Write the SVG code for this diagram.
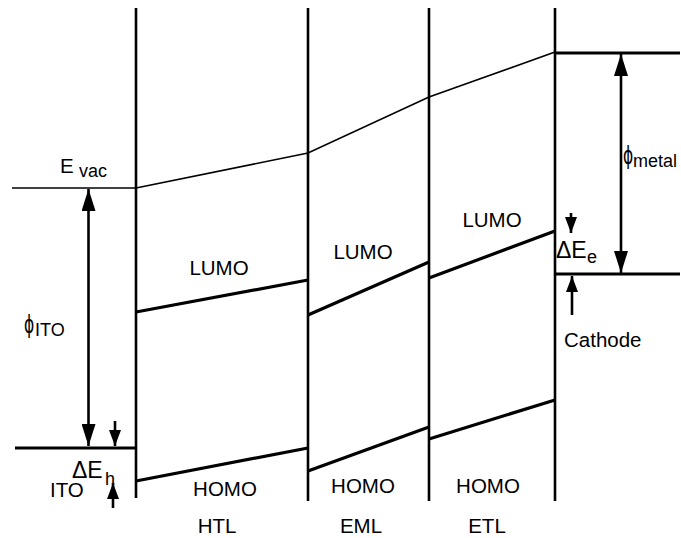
<svg xmlns="http://www.w3.org/2000/svg" width="681" height="538" viewBox="0 0 681 538">
  <style>
    .t { font-family: "Liberation Sans", Arial, sans-serif; font-size: 20.5px; fill: #000; }
    .s { font-family: "Liberation Sans", Arial, sans-serif; font-size: 18px; fill: #000; }
    .d { font-family: "Liberation Sans", Arial, sans-serif; font-size: 23px; fill: #000; }
    .phi { font-family: "DejaVu Sans", "Liberation Sans", sans-serif; font-size: 25px; fill: #000; }
    .wall { stroke: #000; stroke-width: 2.6; fill: none; }
    .vac { stroke: #000; stroke-width: 1.6; fill: none; }
    .lvl { stroke: #000; stroke-width: 3.2; fill: none; }
    .arr { stroke: #000; stroke-width: 2.6; fill: none; }
  </style>
  <defs>
    <marker id="big" viewBox="0 0 22 14" refX="22" refY="7" markerWidth="22" markerHeight="14" markerUnits="userSpaceOnUse" orient="auto">
      <path d="M0,0 L22,7 L0,14 Z" fill="#000"/>
    </marker>
    <marker id="small" viewBox="0 0 16 12" refX="16" refY="6" markerWidth="16" markerHeight="12" markerUnits="userSpaceOnUse" orient="auto">
      <path d="M0,0 L16,6 L0,12 Z" fill="#000"/>
    </marker>
  </defs>
  <rect width="681" height="538" fill="#fff"/>

  <!-- layer boundaries -->
  <g id="walls">
    <line class="wall" x1="136" y1="8" x2="136" y2="498"/>
    <line class="wall" x1="308" y1="8" x2="308" y2="501"/>
    <line class="wall" x1="429" y1="8" x2="429" y2="501"/>
    <line class="wall" x1="555" y1="8" x2="555" y2="501"/>
  </g>

  <!-- vacuum level -->
  <g id="vacuum">
    <line class="vac" x1="12" y1="188" x2="136" y2="188"/>
    <polyline class="vac" points="136,188 308,153 429,97 555,52"/>
    <line class="lvl" x1="555" y1="53" x2="680" y2="53"/>
    <text class="t" x="60" y="173">E</text>
    <text class="s" x="79" y="177">vac</text>
  </g>

  <!-- ITO anode -->
  <g id="ito">
    <line class="lvl" x1="15" y1="448" x2="136" y2="448"/>
    <text class="t" x="50" y="497">ITO</text>
    <text class="phi" transform="translate(24,333) scale(0.62,1)">ϕ</text>
    <text class="s" x="35" y="336">ITO</text>
  </g>

  <!-- cathode -->
  <g id="cathode">
    <line class="lvl" x1="555" y1="274" x2="680" y2="274"/>
    <text class="t" x="564" y="347">Cathode</text>
    <text class="phi" transform="translate(623,164) scale(0.62,1)">ϕ</text>
    <text class="s" x="633" y="167">metal</text>
  </g>

  <!-- HTL -->
  <g id="htl">
    <line class="lvl" x1="136" y1="312" x2="308" y2="280"/>
    <line class="lvl" x1="136" y1="481" x2="308" y2="448"/>
    <text class="t" x="219" y="275" text-anchor="middle">LUMO</text>
    <text class="t" x="225" y="496" text-anchor="middle">HOMO</text>
    <text class="t" x="217" y="533" text-anchor="middle">HTL</text>
  </g>

  <!-- EML -->
  <g id="eml">
    <line class="lvl" x1="308" y1="315" x2="429" y2="262"/>
    <line class="lvl" x1="308" y1="471" x2="429" y2="427"/>
    <text class="t" x="363" y="259" text-anchor="middle">LUMO</text>
    <text class="t" x="363" y="493" text-anchor="middle">HOMO</text>
    <text class="t" x="361" y="533" text-anchor="middle">EML</text>
  </g>

  <!-- ETL -->
  <g id="etl">
    <line class="lvl" x1="429" y1="278" x2="555" y2="231"/>
    <line class="lvl" x1="429" y1="439" x2="555" y2="400"/>
    <text class="t" x="492" y="227" text-anchor="middle">LUMO</text>
    <text class="t" x="488" y="493" text-anchor="middle">HOMO</text>
    <text class="t" x="487" y="533" text-anchor="middle">ETL</text>
  </g>

  <!-- barrier labels -->
  <g id="barriers">
    <text class="d" x="72" y="478">ΔE</text>
    <text class="s" x="105" y="485">h</text>
    <text class="d" x="556" y="258">ΔE</text>
    <text class="s" x="587" y="263">e</text>
  </g>

  <!-- arrows -->
  <g id="connectors">
    <line class="arr" x1="88.5" y1="318" x2="88.5" y2="189" marker-end="url(#big)"/>
    <line class="arr" x1="88.5" y1="318" x2="88.5" y2="446" marker-end="url(#big)"/>
    <line class="arr" x1="621" y1="160" x2="621" y2="54" marker-end="url(#big)"/>
    <line class="arr" x1="621" y1="160" x2="621" y2="273" marker-end="url(#big)"/>
    <line class="arr" x1="115" y1="421" x2="115" y2="446" marker-end="url(#small)"/>
    <line class="arr" x1="113" y1="508" x2="113" y2="483" marker-end="url(#small)"/>
    <line class="arr" x1="571" y1="213" x2="571" y2="233" marker-end="url(#small)"/>
    <line class="arr" x1="572" y1="315" x2="572" y2="276" marker-end="url(#small)"/>
  </g>
</svg>
